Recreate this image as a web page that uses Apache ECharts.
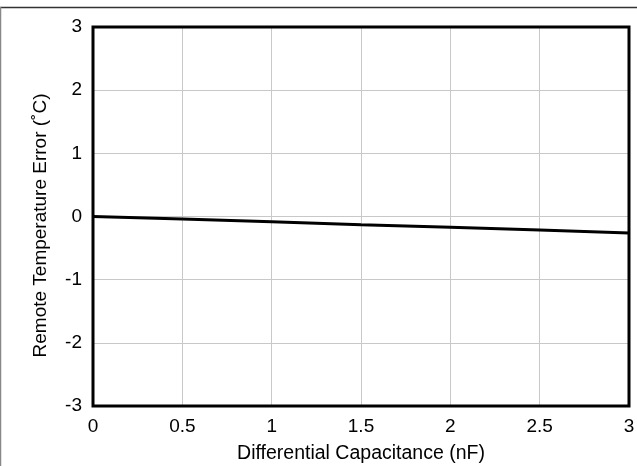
<!DOCTYPE html>
<html>
<head>
<meta charset="utf-8">
<script src="https://cdn.jsdelivr.net/npm/echarts@6/dist/echarts.min.js"></script>
<style>
html,body{margin:0;padding:0;background:#fff;}
#c{width:637px;height:466px;}
</style>
</head>
<body>
<div id="c"></div>
<script>
const capacitance = [0, 0.5, 1, 1.5, 2, 2.5, 3];
const tempError = [0, -0.04, -0.085, -0.13, -0.17, -0.215, -0.26];
const xTicks = ['0', '0.5', '1', '1.5', '2', '2.5', '3'];
const yTicks = ['-3', '-2', '-1', '0', '1', '2', '3'];
const xName = 'Differential Capacitance (nF)';
const yName = 'Remote Temperature Error (˚C)';

const font = 'Arial, "Liberation Sans", sans-serif';
const chart = echarts.init(document.getElementById('c'), null, {renderer: 'canvas'});
chart.setOption({
  animation: false,
  backgroundColor: '#fff',
  grid: {left: 93, right: 8, top: 27, bottom: 60, containLabel: false, outerBoundsMode: 'none'},
  xAxis: {
    type: 'value', min: 0, max: 3, interval: 0.5,
    name: xName, nameLocation: 'middle', nameGap: 38,
    nameTextStyle: {color: '#000', fontSize: 19.5, fontFamily: font},
    axisLine: {show: false},
    axisTick: {show: false},
    axisLabel: {color: '#000', fontSize: 19, fontFamily: font, margin: 11,
      formatter: v => xTicks[Math.round(v / 0.5)]},
    splitLine: {show: true, lineStyle: {color: '#c8c8c8', width: 1}}
  },
  yAxis: {
    type: 'value', min: -3, max: 3, interval: 1,
    name: yName, nameLocation: 'middle', nameGap: 43,
    nameTextStyle: {color: '#000', fontSize: 19, fontFamily: font, padding: [0, 18, 0, 0]},
    axisLine: {show: false},
    axisTick: {show: false},
    axisLabel: {color: '#000', fontSize: 19, fontFamily: font, margin: 11,
      formatter: v => yTicks[Math.round(v) + 3]},
    splitLine: {show: true, lineStyle: {color: '#c8c8c8', width: 1}}
  },
  series: [{
    type: 'line',
    data: capacitance.map((x, i) => [x, tempError[i]]),
    showSymbol: false,
    lineStyle: {color: '#000', width: 3},
    z: 3
  }],
  graphic: [
    {type: 'line', shape: {x1: 0, y1: 7.5, x2: 637, y2: 7.5}, style: {stroke: '#333', lineWidth: 1.5}, silent: true},
    {type: 'line', shape: {x1: 0.5, y1: 7, x2: 0.5, y2: 466}, style: {stroke: '#888', lineWidth: 1.5}, silent: true},
    {type: 'rect', shape: {x: 93, y: 27, width: 536, height: 379}, style: {fill: null, stroke: '#000', lineWidth: 3}, z: 10, silent: true}
  ]
});
</script>
</body>
</html>
